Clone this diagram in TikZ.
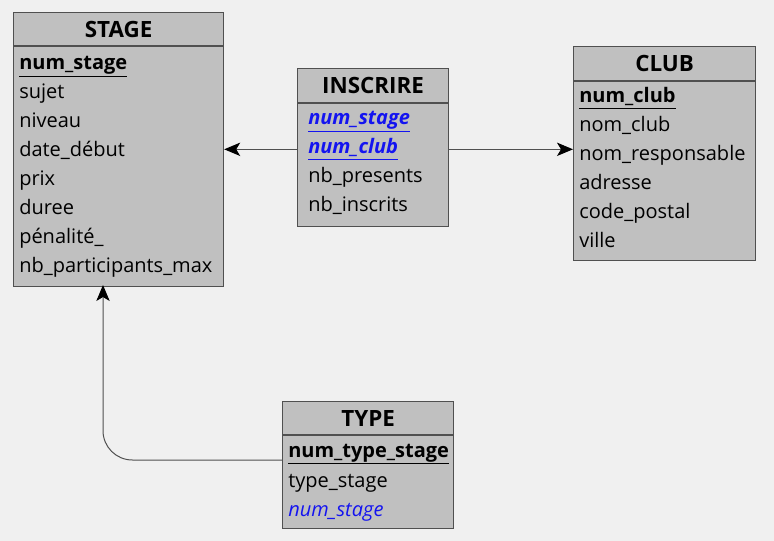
\documentclass[tikz,border=0pt]{standalone}
\usepackage{fontspec}
\setmainfont{Open Sans}
\usetikzlibrary{arrows.meta,positioning}

\definecolor{bg}{HTML}{F0F0F0}
\definecolor{boxfill}{HTML}{C0C0C0}
\definecolor{boxline}{HTML}{505050}
\definecolor{fkblue}{HTML}{1414F0}

\tikzset{
  entity/.style={draw=boxline, fill=boxfill, line width=0.9pt, inner sep=0pt, anchor=north west},
  title/.style={font=\fontsize{16.8}{20}\selectfont\bfseries},
  attr/.style={font=\fontsize{15}{18}\selectfont, anchor=base west, inner sep=0pt},
  link/.style={draw=boxline, line width=0.75pt, -{Stealth[length=12pt, width=10pt, inset=3pt, color=black]}}
}

\begin{document}
\begin{tikzpicture}[x=0.75pt, y=-0.75pt]
  \fill[bg] (0,0) rectangle (774,541);
  \useasboundingbox (0,0) rectangle (774,541);

  % STAGE
  \node (stage-h) [entity, minimum width=210*0.75pt, minimum height=33*0.75pt] at (13,12) {};
  \node (stage) [entity, minimum width=210*0.75pt, minimum height=240*0.75pt] at (stage-h.south west) {};
  \node (stage-t) [title] at (stage-h.center) {STAGE};
  \node (stage-1) [attr] at (19,70) {\underline{\textbf{num\_stage}}};
  \node (stage-2) [attr] at (19,99) {sujet};
  \node (stage-3) [attr] at (19,128) {niveau};
  \node (stage-4) [attr] at (19,157) {date\_début};
  \node (stage-5) [attr] at (19,186) {prix};
  \node (stage-6) [attr] at (19,215) {duree};
  \node (stage-7) [attr] at (19,244) {pénalité\_};
  \node (stage-8) [attr] at (19,273) {nb\_participants\_max};

  % INSCRIRE
  \node (inscrire-h) [entity, minimum width=151*0.75pt, minimum height=34*0.75pt] at (297,68) {};
  \node (inscrire) [entity, minimum width=151*0.75pt, minimum height=123*0.75pt] at (inscrire-h.south west) {};
  \node (inscrire-t) [title] at (inscrire-h.center) {INSCRIRE};
  \node (ins-stage) [attr, text=fkblue] at (308,125) {\underline{\textbf{\textit{num\_stage}}}};
  \node (ins-club) [attr, text=fkblue] at (308,154) {\underline{\textbf{\textit{num\_club}}}};
  \node (ins-3) [attr] at (308,183) {nb\_presents};
  \node (ins-4) [attr] at (308,212) {nb\_inscrits};

  % CLUB
  \node (club-h) [entity, minimum width=182*0.75pt, minimum height=34*0.75pt] at (573,46) {};
  \node (club) [entity, minimum width=182*0.75pt, minimum height=179*0.75pt] at (club-h.south west) {};
  \node (club-t) [title] at (club-h.center) {CLUB};
  \node (club-1) [attr] at (579,103) {\underline{\textbf{num\_club}}};
  \node (club-2) [attr] at (579,132) {nom\_club};
  \node (club-3) [attr] at (579,161) {nom\_responsable};
  \node (club-4) [attr] at (579,190) {adresse};
  \node (club-5) [attr] at (579,219) {code\_postal};
  \node (club-6) [attr] at (579,248) {ville};

  % TYPE
  \node (type-h) [entity, minimum width=171*0.75pt, minimum height=33*0.75pt] at (282,401) {};
  \node (type) [entity, minimum width=171*0.75pt, minimum height=93*0.75pt] at (type-h.south west) {};
  \node (type-t) [title] at (type-h.center) {TYPE};
  \node (type-1) [attr] at (288,457) {\underline{\textbf{num\_type\_stage}}};
  \node (type-2) [attr] at (288,487) {type\_stage};
  \node (type-3) [attr, text=fkblue] at (288,516) {\textit{num\_stage}};

  \coordinate (type-out) at (282,460);
  \coordinate (stage-in) at (103,285);

  \draw[link] (inscrire.west |- ins-club.west) -- (stage.east |- ins-club.west);
  \draw[link] (inscrire.east |- ins-club.west) -- (club.west |- ins-club.west);
  \draw[link, rounded corners=22pt] (type-out) -| (stage-in);
\end{tikzpicture}
\end{document}
